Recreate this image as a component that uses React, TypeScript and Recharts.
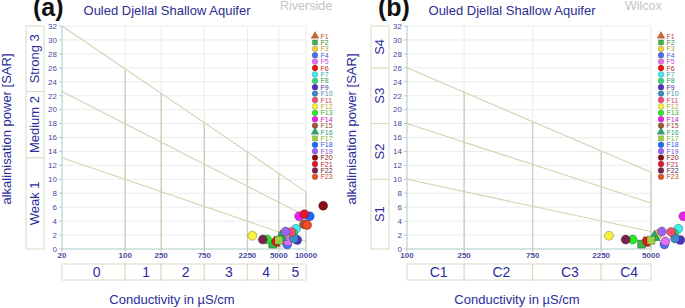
import {
  ComposedChart,
  ReferenceArea,
  ReferenceLine,
  Scatter,
  Symbols,
  XAxis,
  YAxis,
  ZAxis,
} from "recharts";

// samples (same points drawn on both diagrams)
const samples = ["F1", "F2", "F3", "F4", "F5", "F6", "F7", "F8", "F9", "F10", "F11", "F12", "F13", "F14", "F15", "F16", "F17", "F18", "F19", "F20", "F21", "F22", "F23"];
const conductivity = [4490, 4300, 5600, 6200, 6300, 4700, 7750, 7250, 8000, 7350, 6900, 2550, 3730, 8400, 9500, 5280, 5000, 11000, 5950, 15500, 9600, 3330, 10300];
const sar = [0.85, 0.7, 2.15, 0.65, 1.1, 1.1, 2.9, 2.2, 1.3, 1.5, 2.45, 1.9, 1.35, 4.7, 3.55, 1.7, 1.25, 4.7, 2.5, 6.2, 5.0, 1.35, 3.45];

const markerShape = ["triangle", "square", "circle", "circle", "circle", "circle", "circle", "circle", "circle", "circle", "circle", "circle", "circle", "circle", "circle", "triangle", "square", "circle", "circle", "circle", "circle", "circle", "circle"];
const markerFill = ["#d9622b", "#3bb54a", "#f2d23a", "#4d6ff0", "#e36ef0", "#f21414", "#40ecec", "#34d873", "#4f30c4", "#3b8dc4", "#f2506e", "#f6f03e", "#25ea25", "#ea22ea", "#a45a38", "#22aa6a", "#9fd041", "#1766ff", "#9c62f6", "#8c0a16", "#e3162d", "#7b2350", "#f24b22"];
const labelColor = ["#b5582b", "#3a8c3a", "#b3a13c", "#4a62d8", "#c252c9", "#c82424", "#32a8a8", "#32a05a", "#4a3494", "#3a8fb0", "#cf4458", "#b3ae32", "#35a835", "#c024c0", "#8f4f32", "#2e9c70", "#7eae30", "#2a5ae0", "#8650d6", "#7e1a22", "#c0282f", "#5e2a46", "#c85028"];

const sarTicks = [0, 2, 4, 6, 8, 10, 12, 14, 16, 18, 20, 22, 24, 26, 28, 30, 32];

// (a) Riverside
const riversideTicks = [20, 100, 250, 750, 2250, 5000, 10000];
const riversideClasses = ["0", "1", "2", "3", "4", "5"];
const riversideBands = ["Weak 1", "Medium 2", "Strong 3"];
const riversideBandEdges = [0, 13.1, 22.6, 32];
const riversideLineStart = [13.1, 22.6, 32];
const riversideLineEnd = [1.1, 4.7, 8.2];
const riversideTopAtTick = [32, 25.8, 22.4, 18.2, 14.0, 10.9, 8.2];

// (b) Wilcox
const wilcoxTicks = [100, 250, 750, 2250, 5000];
const wilcoxClasses = ["C1", "C2", "C3", "C4"];
const wilcoxBands = ["S1", "S2", "S3", "S4"];
const wilcoxBandEdges = [0, 10, 18, 26, 32];
const wilcoxLineStart = [10, 18, 26];
const wilcoxLineEnd = [2.5, 6.6, 11];
const wilcoxTopAtTick = [32, 22.5, 18.2, 14.0, 11];

const PLOT_LEFT = 62;
const PLOT_TOP = 26;
const PLOT_BOTTOM = 249;
const DIAGRAM_W = 244;
const CHART_H = 308;
const X_MAX = 20000;
const BLUE = "#2c2c9c";
const FONT = '"Liberation Sans", Arial, sans-serif';

const points = samples.map((name, i) => ({ name, ec: conductivity[i], sar: sar[i] }));

interface PanelProps {
  ticks: number[];
  classes: string[];
  bands: string[];
  bandEdges: number[];
  lineStart: number[];
  lineEnd: number[];
  topAtTick: number[];
}

function Panel({ ticks, classes, bands, bandEdges, lineStart, lineEnd, topAtTick }: PanelProps) {
  const lo = ticks[0];
  const hi = ticks[ticks.length - 1];
  // plot reaches past the diagram so outlying samples are still drawn
  const plotW = (DIAGRAM_W * Math.log(X_MAX / lo)) / Math.log(hi / lo);
  const width = PLOT_LEFT + plotW + 4;

  return (
    <ComposedChart
      width={width}
      height={CHART_H}
      margin={{ top: PLOT_TOP, right: 4, left: 32, bottom: CHART_H - PLOT_BOTTOM - 20 }}
      style={{ fontFamily: FONT }}
    >
      <XAxis
        type="number"
        dataKey="ec"
        scale="log"
        domain={[lo, X_MAX]}
        ticks={ticks}
        interval={0}
        height={20}
        axisLine={false}
        tickSize={3}
        tickMargin={0}
        tickLine={{ stroke: "#c4c4c4" }}
        tick={{ fontSize: 8, fill: "#4a4a9c", fontWeight: 700 }}
      />
      <YAxis
        type="number"
        dataKey="sar"
        domain={[0, 32]}
        ticks={sarTicks}
        interval={0}
        width={30}
        axisLine={{ stroke: "#a9cbc2" }}
        tickSize={3}
        tickMargin={2}
        tickLine={{ stroke: "#c4c4c4" }}
        tick={{ fontSize: 8, fill: "#4a4a9c" }}
      />
      <ZAxis range={[48, 48]} />

      {sarTicks.slice(1).map((v) => (
        <ReferenceLine key={`h${v}`} segment={[{ x: lo, y: v }, { x: hi, y: v }]} stroke="#ebebeb" />
      ))}
      {ticks.slice(1).map((t) => (
        <ReferenceLine key={`v${t}`} segment={[{ x: t, y: 0 }, { x: t, y: 32 }]} stroke="#ebebeb" />
      ))}
      {ticks.slice(1).map((t, i) => (
        <ReferenceLine
          key={`b${t}`}
          segment={[{ x: t, y: 0 }, { x: t, y: topAtTick[i + 1] }]}
          stroke="#cfcfbb"
          strokeWidth={1.4}
        />
      ))}
      {lineStart.map((s, i) => (
        <ReferenceLine
          key={`d${i}`}
          segment={[{ x: lo, y: s }, { x: hi, y: lineEnd[i] }]}
          stroke="#d3d3b3"
          strokeWidth={1.1}
        />
      ))}
      <ReferenceLine segment={[{ x: lo, y: 0 }, { x: hi, y: 0 }]} stroke="#a9cbc2" />

      {bands.map((b, i) => (
        <ReferenceArea
          key={`band${b}`}
          x1={lo}
          x2={hi}
          y1={bandEdges[i]}
          y2={bandEdges[i + 1]}
          shape={(p: any) => (
            <g>
              <rect x={p.x - 36} y={p.y} width={18} height={p.height} fill="#fff" stroke="#d9d9c3" />
              <text
                transform={`translate(${p.x - 22.5} ${p.y + p.height / 2}) rotate(-90)`}
                textAnchor="middle"
                fontSize={13}
                fill={BLUE}
                fontFamily={FONT}
              >
                {b}
              </text>
            </g>
          )}
        />
      ))}
      {classes.map((c, i) => (
        <ReferenceArea
          key={`cls${c}`}
          x1={ticks[i]}
          x2={ticks[i + 1]}
          shape={(p: any) => (
            <g>
              <rect x={p.x} y={p.y + p.height + 15} width={p.width} height={16} fill="#fff" stroke="#d9d9c3" />
              <text
                x={p.x + p.width / 2 + 3}
                y={p.y + p.height + 28}
                textAnchor="middle"
                fontSize={14}
                fill={BLUE}
                fontFamily={FONT}
              >
                {c}
              </text>
            </g>
          )}
        />
      ))}

      {points.map((pt, i) => (
        <Scatter
          key={pt.name}
          name={pt.name}
          data={[pt]}
          fill={markerFill[i]}
          stroke="rgba(0,0,0,0.35)"
          strokeWidth={0.7}
          shape={markerShape[i] as any}
          isAnimationActive={false}
        />
      ))}
    </ComposedChart>
  );
}

function Legend({ x }: { x: number }) {
  return (
    <g>
      {samples.map((s, i) => (
        <g key={s}>
          <Symbols
            cx={x}
            cy={36 + i * 6.4}
            type={markerShape[i] as any}
            size={26}
            fill={markerFill[i]}
            stroke="rgba(0,0,0,0.35)"
            strokeWidth={0.5}
          />
          <text x={x + 5.5} y={38.5 + i * 6.4} fontSize={7} fill={labelColor[i]} fontFamily={FONT}>
            {s}
          </text>
        </g>
      ))}
    </g>
  );
}

function Titles({ dx, tag, name }: { dx: number; tag: string; name: string }) {
  return (
    <g fontFamily={FONT}>
      <text x={dx + 33} y={16} fontSize={25} fontWeight={700} fill="#111">
        {tag}
      </text>
      <text x={dx + 167} y={14.5} fontSize={13} fill="#2d2d8f" textAnchor="middle">
        Ouled Djellal Shallow Aquifer
      </text>
      <text x={dx + 280} y={9.5} fontSize={12.5} fill="#c4c4c4">
        {name}
      </text>
      <text x={dx + 172} y={304} fontSize={13} fill={BLUE} textAnchor="middle">
        Conductivity in µS/cm
      </text>
      <text transform={`translate(${dx + 11} 129) rotate(-90)`} fontSize={13} fill={BLUE} textAnchor="middle">
        alkalinisation power [SAR]
      </text>
    </g>
  );
}

export default function App() {
  return (
    <div
      style={{
        position: "absolute",
        left: 0,
        top: 0,
        width: 685,
        height: 308,
        overflow: "hidden",
        background: "#fff",
      }}
    >
      <div style={{ position: "absolute", left: 0, top: 0 }}>
        <Panel
          ticks={riversideTicks}
          classes={riversideClasses}
          bands={riversideBands}
          bandEdges={riversideBandEdges}
          lineStart={riversideLineStart}
          lineEnd={riversideLineEnd}
          topAtTick={riversideTopAtTick}
        />
      </div>
      <div style={{ position: "absolute", left: 345, top: 0 }}>
        <Panel
          ticks={wilcoxTicks}
          classes={wilcoxClasses}
          bands={wilcoxBands}
          bandEdges={wilcoxBandEdges}
          lineStart={wilcoxLineStart}
          lineEnd={wilcoxLineEnd}
          topAtTick={wilcoxTopAtTick}
        />
      </div>
      <svg
        width={685}
        height={308}
        style={{ position: "absolute", left: 0, top: 0, pointerEvents: "none" }}
      >
        <Titles dx={0} tag="(a)" name="Riverside" />
        <Titles dx={345} tag="(b)" name="Wilcox" />
        <Legend x={315} />
        <Legend x={661} />
      </svg>
    </div>
  );
}
